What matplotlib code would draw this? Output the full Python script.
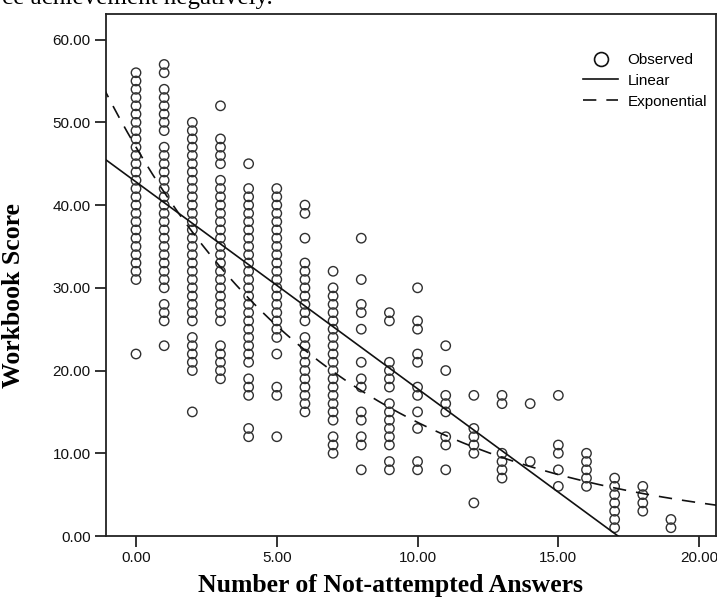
import numpy as np
import matplotlib
matplotlib.use('Agg')
import matplotlib.pyplot as plt
from matplotlib.ticker import FormatStrFormatter
from matplotlib.lines import Line2D

# workbook scores observed for each number of not-attempted answers
score_0 = [22, 31, 32, 33, 34, 35, 36, 37, 38, 39, 40, 41, 42, 43, 44, 45, 46, 47, 48, 49, 50, 51, 52, 53, 54, 55, 56]
score_1 = [23, 26, 27, 28, 30, 31, 32, 33, 34, 35, 36, 37, 38, 39, 40, 41, 42, 43, 44, 45, 46, 47, 49, 50, 51, 52, 53, 54, 56, 57]
score_2 = [15, 20, 21, 22, 23, 24, 26, 27, 28, 29, 30, 31, 32, 33, 34, 35, 36, 37, 38, 39, 40, 41, 42, 43, 44, 45, 46, 47, 48, 49, 50]
score_3 = [19, 20, 21, 22, 23, 26, 27, 28, 29, 30, 31, 32, 33, 34, 35, 36, 37, 38, 39, 40, 41, 42, 43, 45, 46, 47, 48, 52]
score_4 = [12, 13, 17, 18, 19, 21, 22, 23, 24, 25, 26, 27, 28, 29, 30, 31, 32, 33, 34, 35, 36, 37, 38, 39, 40, 41, 42, 45]
score_5 = [12, 17, 18, 22, 24, 25, 26, 27, 28, 29, 30, 31, 32, 33, 34, 35, 36, 37, 38, 39, 40, 41, 42]
score_6 = [15, 16, 17, 18, 19, 20, 21, 22, 23, 24, 26, 27, 28, 29, 30, 31, 32, 33, 36, 39, 40]
score_7 = [10, 11, 12, 14, 15, 16, 17, 18, 19, 20, 21, 22, 23, 24, 25, 26, 27, 28, 29, 30, 32]
score_8 = [8, 11, 12, 14, 15, 18, 19, 21, 25, 27, 28, 31, 36]
score_9 = [8, 9, 11, 12, 13, 14, 15, 16, 18, 19, 20, 21, 26, 27]
score_10 = [8, 9, 13, 15, 17, 18, 21, 22, 25, 26, 30]
score_11 = [8, 11, 12, 15, 16, 17, 20, 23]
score_12 = [4, 10, 11, 12, 13, 17]
score_13 = [7, 8, 9, 10, 16, 17]
score_14 = [9, 16]
score_15 = [6, 8, 10, 11, 17]
score_16 = [6, 7, 8, 9, 10]
score_17 = [1, 2, 3, 4, 5, 6, 7]
score_18 = [3, 4, 5, 6]
score_19 = [1, 2]

columns = [score_0, score_1, score_2, score_3, score_4, score_5, score_6, score_7,
           score_8, score_9, score_10, score_11, score_12, score_13, score_14,
           score_15, score_16, score_17, score_18, score_19]

# fitted curves
lin_intercept = 42.8
lin_slope = -2.5
exp_a = 47.0
exp_b = -0.123

x_ticks = [0, 5, 10, 15, 20]
y_ticks = [0, 10, 20, 30, 40, 50, 60]

plt.rcParams['font.family'] = 'Liberation Sans'

fig = plt.figure(figsize=(7.17, 6.02), dpi=100)
ax = fig.add_axes([106 / 717, 66 / 602, 610 / 717, 522 / 602])

xs = []
ys = []
for n, col in enumerate(columns):
    xs += [n] * len(col)
    ys += col
ax.scatter(xs, ys, s=46, facecolors='none', edgecolors='#303030', linewidths=1.0, zorder=2)

xline = np.linspace(-1.2, 21, 300)
ax.plot(xline, lin_intercept + lin_slope * xline, color='#111111', lw=1.2, zorder=3)
ax.plot(xline, exp_a * np.exp(exp_b * xline), color='#111111', lw=1.2,
        dashes=(8, 6), zorder=3)

ax.set_xlim(-1.066, 20.6)
ax.set_ylim(0, 63.1)
ax.set_xticks(x_ticks)
ax.set_yticks(y_ticks)
ax.xaxis.set_major_formatter(FormatStrFormatter('%.2f'))
ax.yaxis.set_major_formatter(FormatStrFormatter('%.2f'))
ax.tick_params(labelsize=11, length=8, width=1.2, pad=3, colors='#111111')
for sp in ax.spines.values():
    sp.set_linewidth(1.3)
    sp.set_color('#222222')

ax.set_xlabel('Number of Not-attempted Answers', family='Liberation Serif',
              fontweight='bold', fontsize=18.5)
ax.xaxis.set_label_coords(0.466, -0.072)
ax.set_ylabel('Workbook Score', family='Liberation Serif',
              fontweight='bold', fontsize=18.5)
ax.yaxis.set_label_coords(-0.133, 0.46)

handles = [
    Line2D([], [], ls='none', marker='o', markersize=10, markerfacecolor='none',
           markeredgecolor='#111111', markeredgewidth=1.2),
    Line2D([], [], color='#111111', lw=1.2),
    Line2D([], [], color='#111111', lw=1.2, dashes=(8, 6)),
]
ax.legend(handles, ['Observed', 'Linear', 'Exponential'], loc='upper left',
          bbox_to_anchor=(0.77, 0.94), frameon=False, fontsize=11,
          borderpad=0, handlelength=2.3, handletextpad=0.6, labelspacing=0.45)

fig.text(2 / 717, 1 - 4 / 602, 'ce achievement negatively.', family='Liberation Serif',
         fontsize=18, va='baseline')

fig.savefig('out.png', dpi=100)
